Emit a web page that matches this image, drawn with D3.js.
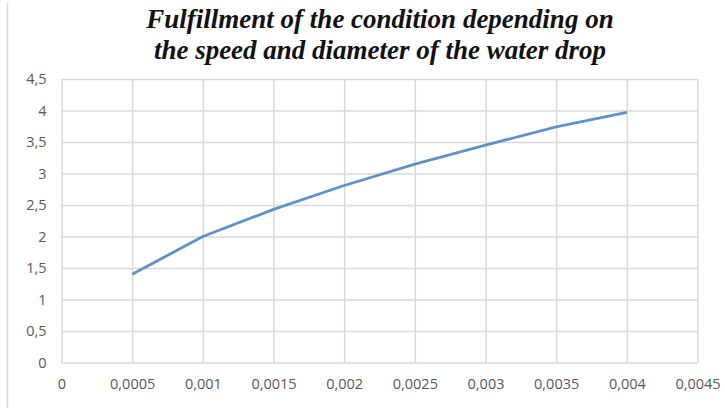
<!DOCTYPE html>
<html><head><meta charset="utf-8">
<script src="https://cdn.jsdelivr.net/npm/d3@7"></script>
<style>body{margin:0;background:#fff;} svg{display:block;}</style>
</head><body>
<svg id="c" width="725" height="408"></svg>
<script>
const titleLines = ["Fulfillment of the condition depending on", "the speed and diameter of the water drop"];
const xValues = [0.0005, 0.001, 0.0015, 0.002, 0.0025, 0.003, 0.0035, 0.004];
const yValues = [1.40, 2.0, 2.43, 2.81, 3.15, 3.45, 3.74, 3.97];
const xTicks = [0, 0.0005, 0.001, 0.0015, 0.002, 0.0025, 0.003, 0.0035, 0.004, 0.0045];
const yTicks = [0, 0.5, 1, 1.5, 2, 2.5, 3, 3.5, 4, 4.5];

const svg = d3.select("#c");
const m = {left: 61.5, right: 697.5, top: 79, bottom: 362.5};
const x = d3.scaleLinear().domain([0, 0.0045]).range([m.left, m.right]);
const y = d3.scaleLinear().domain([0, 4.5]).range([m.bottom, m.top]);
const fmt = v => String(+v.toFixed(4)).replace(".", ",");

// left frame line
svg.append("line").attr("x1", 7.5).attr("x2", 7.5).attr("y1", 3).attr("y2", 408)
  .attr("stroke", "#d9d9d9").attr("stroke-width", 1.5);

// grid
const gx = svg.append("g").attr("transform", `translate(0,${m.bottom})`)
  .call(d3.axisBottom(x).tickValues(xTicks).tickSize(-(m.bottom - m.top)).tickFormat(fmt).tickPadding(16));
const gy = svg.append("g").attr("transform", `translate(${m.left},0)`)
  .call(d3.axisLeft(y).tickValues(yTicks).tickSize(-(m.right - m.left)).tickFormat(fmt).tickPadding(15));
[gx, gy].forEach(g => {
  g.select(".domain").remove();
  g.selectAll(".tick line").attr("stroke", "#d9d9d9").attr("stroke-width", 1.5);
  g.selectAll(".tick text").attr("fill", "#595959").attr("font-family", "'Open Sans', 'Noto Sans', sans-serif").attr("font-size", 14.5);
});
gx.selectAll(".tick text").attr("dy", "0.71em");

// line
svg.append("path").datum(xValues.map((d, i) => [d, yValues[i]]))
  .attr("fill", "none").attr("stroke", "#5f93c6").attr("stroke-width", 2.8)
  .attr("stroke-linejoin", "round")
  .attr("d", d3.line().x(d => x(d[0])).y(d => y(d[1])));

// title
const t = svg.append("g");
titleLines.forEach((s, i) => {
  t.append("text").attr("x", 380).attr("y", 28 + i * 31)
    .attr("text-anchor", "middle")
    .attr("font-family", "'Liberation Serif', 'Times New Roman', serif")
    .attr("font-weight", "bold").attr("font-style", "italic")
    .attr("font-size", 27).attr("fill", "#111").text(s);
});
</script>
</body></html>
